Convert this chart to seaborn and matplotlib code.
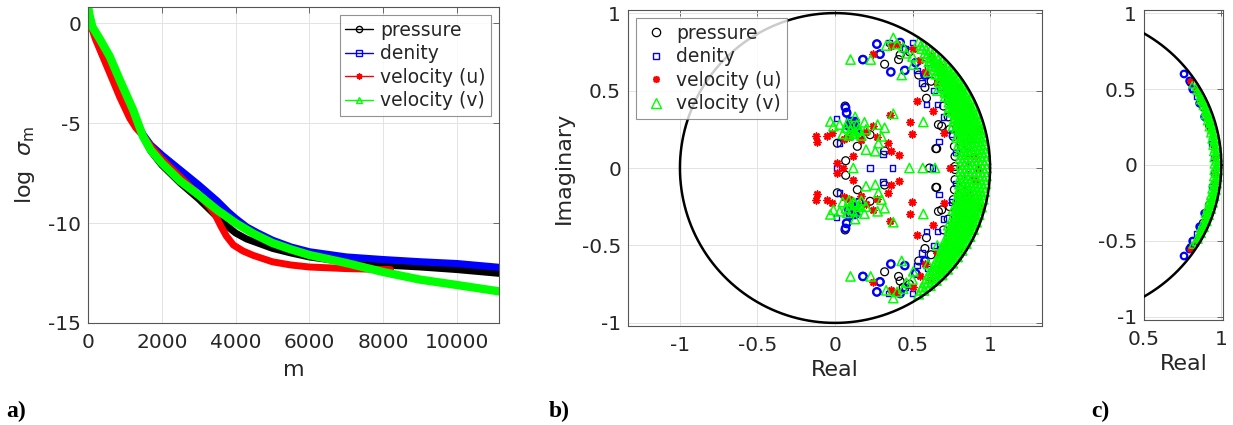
import numpy as np
import pandas as pd
import matplotlib
matplotlib.use("Agg")
import matplotlib.pyplot as plt
from matplotlib.lines import Line2D
import seaborn as sns

# ---------------- panel a: singular values ----------------
series_names = ["pressure", "denity", "velocity (u)", "velocity (v)"]

pressure_m = [0, 150, 400, 800, 1200, 1500, 1700, 2000, 2500, 3000, 3500, 3800, 4000, 4300, 4600, 5000, 5500, 6000, 7000, 8000, 9000, 10000, 11150]
pressure_s = [0.3, -0.4, -1.6, -3.0, -4.6, -5.7, -6.4, -7.1, -8.0, -8.8, -9.7, -10.2, -10.5, -10.8, -11.0, -11.27, -11.5, -11.7, -11.95, -12.1, -12.2, -12.33, -12.52]

density_m = [0, 150, 400, 800, 1200, 1500, 1700, 2000, 2500, 3000, 3500, 3800, 4000, 4300, 4600, 5000, 5500, 6000, 7000, 8000, 9000, 10000, 11150]
density_s = [0.3, -0.4, -1.6, -3.0, -4.6, -5.6, -6.1, -6.6, -7.35, -8.1, -8.9, -9.45, -9.77, -10.2, -10.5, -10.86, -11.2, -11.44, -11.7, -11.83, -11.94, -12.03, -12.22]

vel_u_m = [0, 200, 588, 860, 1131, 1300, 1500, 1700, 2000, 2500, 3000, 3300, 3450, 3600, 3750, 3940, 4200, 4480, 5000, 5500, 6000, 7000, 8200]
vel_u_s = [0.3, -0.8, -2.5, -3.7, -4.76, -5.25, -5.65, -6.15, -6.8, -7.7, -8.6, -9.2, -9.6, -10.15, -10.65, -11.1, -11.4, -11.62, -11.94, -12.1, -12.2, -12.28, -12.33]

vel_v_m = [0, 40, 120, 320, 588, 860, 1222, 1493, 1700, 2000, 2500, 3000, 3500, 4000, 4500, 5000, 5500, 6000, 7000, 8000, 9000, 10000, 11150]
vel_v_s = [0.85, 0.4, -0.2, -0.8, -1.67, -2.84, -4.34, -5.68, -6.35, -7.0, -7.9, -8.6, -9.35, -10.0, -10.55, -11.0, -11.32, -11.6, -12.0, -12.45, -12.83, -13.1, -13.42]

# ---------------- panel b: eigenvalues (upper half-plane, conjugates mirrored) ----------------
b_p_re = [0.065, 0.075, 0.015, 0.069, 0.144, 0.226, 0.32, 0.13, 0.16, 0.18, 0.27, 0.29, 0.32, 0.41, 0.42, 0.44, 0.48,
          0.65, 0.61, 0.59, 0.667, 0.73, 0.774, 0.774, 0.763, 0.58, 0.62, 0.70, 0.74, 0.77, 0.54, 0.80, 0.84, 0.86, 0.656, 0.688]
b_p_im = [0.40, 0.36, 0.16, 0.047, 0.14, 0.215, 0.11, 0.26, 0.22, 0.70, 0.80, 0.735, 0.67, 0.70, 0.73, 0.77, 0.75,
          0.125, 0.0, 0.45, 0.28, 0.33, 0.01, 0.075, 0.204, 0.52, 0.56, 0.40, 0.25, 0.14, 0.60, 0.30, 0.20, 0.05, 0.125, 0.27]

b_d_re = [0.01, 0.01, 0.226, 0.37, 0.31, 0.03, 0.59, 0.67, 0.63, 0.66, 0.53, 0.50, 0.12, 0.10, 0.14, 0.155, 0.35, 0.45,
          0.56, 0.70, 0.75, 0.78, 0.82, 0.72, 0.64, 0.60, 0.68, 0.79, 0.85, 0.11, 0.13, 0.09]
b_d_im = [0.32, 0.0, 0.0, 0.0, 0.09, 0.16, 0.41, 0.17, 0.0, 0.41, 0.63, 0.81, 0.30, 0.27, 0.24, 0.21, 0.81, 0.77,
          0.55, 0.33, 0.22, 0.10, 0.28, 0.45, 0.50, 0.65, 0.52, 0.36, 0.14, 0.29, 0.26, 0.31]

b_dc_re = [0.068, 0.075, 0.27, 0.18, 0.29, 0.36, 0.42, 0.45, 0.10, 0.12, 0.11, 0.52, 0.58, 0.09, 0.13]
b_dc_im = [0.39, 0.355, 0.80, 0.70, 0.735, 0.62, 0.81, 0.63, 0.30, 0.28, 0.25, 0.68, 0.60, 0.27, 0.30]

b_u_re = [-0.125, -0.114, -0.054, -0.02, 0.01, 0.05, 0.118, 0.17, 0.247, 0.344, 0.36, 0.41, 0.355, 0.484, 0.495, 0.527,
          0.63, 0.742, 0.70, 0.247, 0.36, 0.40, 0.50, 0.55, 0.58, 0.66, 0.72, 0.78, 0.83, 0.87, 0.90, 0.92, 0.06, 0.09,
          0.20, 0.27, 0.86, 0.93, 0.80, 0.68, 0.62]
b_u_im = [0.204, 0.166, 0.204, 0.226, 0.03, 0.0, 0.075, 0.18, 0.27, 0.16, 0.11, 0.086, 0.34, 0.295, 0.22, 0.434,
          0.366, 0.0, 0.226, 0.735, 0.79, 0.80, 0.77, 0.70, 0.62, 0.55, 0.48, 0.38, 0.30, 0.18, 0.08, 0.0, 0.19, 0.20,
          0.23, 0.20, 0.40, 0.25, 0.52, 0.66, 0.72]

b_v_re = [0.10, 0.23, -0.03, -0.01, 0.13, 0.19, 0.275, 0.32, 0.30, 0.28, 0.26, 0.118, 0.20, 0.376, 0.48, 0.566, 0.57,
          0.645, 0.376, 0.43, 0.505, 0.03, 0.07, 0.10, 0.12, 0.15, 0.17, 0.08, 0.05, 0.20, 0.33, 0.46, 0.60, 0.66, 0.73,
          0.76, 0.40, 0.44, 0.50, 0.11, 0.14, 0.13, 0.16, 0.09]
b_v_im = [0.70, 0.70, 0.30, 0.27, 0.33, 0.295, 0.28, 0.26, 0.204, 0.16, 0.108, 0.0, 0.118, 0.35, 0.0, 0.0, 0.297,
          0.0, 0.84, 0.60, 0.667, 0.28, 0.26, 0.24, 0.22, 0.25, 0.21, 0.29, 0.22, 0.25, 0.79, 0.74, 0.62, 0.50, 0.37,
          0.27, 0.80, 0.78, 0.72, 0.27, 0.28, 0.23, 0.24, 0.21]

# dense arc of velocity (v) eigenvalues near the unit circle: modulus and phase (deg)
b_v_arc_mod = [0.978, 0.965, 0.952, 0.939, 0.926, 0.913, 0.900, 0.887, 0.874, 0.861, 0.848, 0.835, 0.822, 0.809]
b_v_arc_deg = [
    [0, 3, 6, 9, 12, 15, 18, 21, 24, 27, 30, 33, 36, 39, 42, 45, 48, 51, 54, 56.5],
    [1.5, 4.5, 7.5, 10.5, 13.5, 16.5, 19.5, 22.5, 25.5, 28.5, 31.5, 34.5, 37.5, 40.5, 43.5, 46.5, 49.5, 52.5, 55],
    [0, 3, 6, 9, 12, 15, 18, 21, 24, 27, 30, 33, 36, 39, 42, 45, 48, 51, 54],
    [1.5, 4.5, 7.5, 10.5, 13.5, 16.5, 19.5, 22.5, 25.5, 28.5, 31.5, 34.5, 37.5, 40.5, 43.5, 46.5, 49.5, 52],
    [0, 3, 6, 9, 12, 15, 18, 21, 24, 27, 30, 33, 36, 39, 42, 45, 48, 50.5],
    [1.5, 4.5, 7.5, 10.5, 13.5, 16.5, 19.5, 22.5, 25.5, 28.5, 31.5, 34.5, 37.5, 40.5, 43.5, 46.5, 48.5],
    [0, 3, 6, 9, 12, 15, 18, 21, 24, 27, 30, 33, 36, 39, 42, 45],
    [1.5, 4.5, 7.5, 10.5, 13.5, 16.5, 19.5, 22.5, 25.5, 28.5, 31.5, 34.5, 37.5, 40.5, 43],
    [0, 3, 6, 9, 12, 15, 18, 21, 24, 27, 30, 33, 36, 39.5],
    [1.5, 4.5, 7.5, 10.5, 13.5, 16.5, 19.5, 22.5, 25.5, 28.5, 31.5, 34.5, 37],
    [0, 3, 6, 9, 12, 15, 18, 21, 24, 27, 30, 33],
    [1.5, 4.5, 7.5, 10.5, 13.5, 16.5, 19.5, 22.5, 25.5, 28],
    [0, 3, 6, 9, 12, 15, 18, 21.5],
    [1.5, 4.5, 7.5, 10.5, 14],
]

# ---------------- panel c: eigenvalues of the second case ----------------
c_p_re = [0.80, 0.88, 0.92]
c_p_im = [0.54, 0.38, 0.26]
c_d_re = [0.813, 0.86, 0.89, 0.935, 0.84, 0.95]
c_d_im = [0.498, 0.41, 0.32, 0.14, 0.45, 0.05]
c_dc_re = [0.759, 0.795, 0.86, 0.892, 0.815]
c_dc_im = [0.599, 0.553, 0.406, 0.318, 0.50]
c_u_re = [0.834, 0.80, 0.87, 0.90, 0.93, 0.95, 0.96, 0.85, 0.91]
c_u_im = [0.498, 0.55, 0.42, 0.33, 0.24, 0.12, 0.05, 0.47, 0.30]
c_v_arc_mod = [0.988, 0.978, 0.968, 0.958, 0.948]
c_v_arc_deg = [
    [0, 2.5, 5, 7.5, 10, 12.5, 15, 17.5, 20, 22.5, 25, 27.5, 30],
    [1.2, 3.7, 6.2, 8.7, 11.2, 13.7, 16.2, 18.7, 21.2, 23.7, 26.2, 28.7, 31.5],
    [0, 2.5, 5, 7.5, 10, 12.5, 15, 17.5, 20, 22.5, 25, 27.5, 30, 33],
    [1.2, 3.7, 6.2, 8.7, 11.2, 13.7, 16.2, 18.7, 21.2, 23.7, 26.2],
    [0, 2.5, 5, 7.5, 10, 12.5, 15, 17.5, 20],
]


def mirror(re, im):
    re = np.asarray(re, float)
    im = np.asarray(im, float)
    m = im > 0
    return np.concatenate([re, re[m]]), np.concatenate([im, -im[m]])


def arc_points(mods, degs):
    re, im = [], []
    for r, ds in zip(mods, degs):
        for d in ds:
            re.append(r * np.cos(np.radians(d)))
            im.append(r * np.sin(np.radians(d)))
    return re, im


# ---------------- style ----------------
sns.set_theme(style="white")
plt.rcParams.update({
    "font.family": ["DejaVu Sans"],
    "axes.unicode_minus": False,
    "mathtext.fontset": "dejavusans",
    "axes.edgecolor": "#555555",
    "axes.linewidth": 0.8,
    "xtick.color": "#262626",
    "ytick.color": "#262626",
    "text.color": "#262626",
    "axes.labelcolor": "#262626",
    "xtick.direction": "in",
    "ytick.direction": "in",
})

W, H = 1233, 425
fig = plt.figure(figsize=(W / 100, H / 100), dpi=100)
fig.patch.set_facecolor("white")
axa = fig.add_axes([88 / W, 1 - 323 / H, 411 / W, 316 / H])
axb = fig.add_axes([628 / W, 1 - 326 / H, 414 / W, 316 / H])
axc = fig.add_axes([1144 / W, 1 - 320 / H, 79 / W, 310 / H])

TICK_FS = 14.5
LAB_FS = 16


def style_axes(ax):
    ax.grid(True, color="#e3e3e3", lw=0.7)
    ax.set_axisbelow(True)
    ax.tick_params(axis="both", which="both", labelsize=TICK_FS, length=4, width=0.6,
                   top=True, right=True, color="#555555")
    ax.tick_params(axis="x", pad=7)
    ax.tick_params(axis="y", pad=5)


# ---- panel a ----
colors = ["black", "#0000ff", "#ff0000", "#00ff00"]
markers_a = ["o", "s", (8, 2, 0), "^"]
data_a = [(pressure_m, pressure_s), (density_m, density_s), (vel_u_m, vel_u_s), (vel_v_m, vel_v_s)]
lws = [5.0, 5.2, 5.0, 6.0]
for (mm, ss), c, lw in zip(data_a, colors, lws):
    sns.lineplot(x=mm, y=ss, ax=axa, color=c, lw=lw, sort=False, estimator=None,
                 legend=False, solid_capstyle="round", solid_joinstyle="round")
axa.set_xlim(0, 11140)
axa.set_ylim(-15, 0.8)
axa.set_xticks([0, 2000, 4000, 6000, 8000, 10000])
axa.set_yticks([-15, -10, -5, 0])
style_axes(axa)
axa.set_xlabel("m", fontsize=LAB_FS, labelpad=6)
axa.set_ylabel(r"log  $\sigma_{\rm m}$", fontsize=LAB_FS, labelpad=8)
handles_a = [Line2D([], [], color=c, lw=1.0, marker=mk, ms=4.5, mfc="none", mec=c, mew=1.0)
             for c, mk in zip(colors, markers_a)]
leg = axa.legend(handles_a, series_names, loc="upper right", bbox_to_anchor=(1 - 8 / 411, 1 - 8 / 316),
                 borderaxespad=0, fontsize=13.5, frameon=True, fancybox=False, handlelength=1.5,
                 handletextpad=0.35, labelspacing=0.24, borderpad=0.3)
leg.get_frame().set_edgecolor("#777777")
leg.get_frame().set_linewidth(0.8)

# ---- panels b and c ----
theta = np.linspace(0, 2 * np.pi, 721)


def scatter_series(ax, re, im, marker, color, s, lw, filled_line=False):
    df = pd.DataFrame({"Real": re, "Imaginary": im})
    face = color if filled_line else "none"
    sns.scatterplot(data=df, x="Real", y="Imaginary", ax=ax, marker=marker, s=s,
                    facecolor=face, edgecolor=color, linewidth=lw, legend=False, zorder=3)


# panel b
bv_arc_re, bv_arc_im = arc_points(b_v_arc_mod, b_v_arc_deg)
re, im = mirror(b_p_re, b_p_im); scatter_series(axb, re, im, "o", "black", 32, 0.9)
re, im = mirror(b_dc_re, b_dc_im); scatter_series(axb, re, im, "o", "#0000ff", 28, 1.7)
re, im = mirror(b_d_re, b_d_im); scatter_series(axb, re, im, "s", "#0000ff", 16, 1.0)
re, im = mirror(b_u_re, b_u_im); scatter_series(axb, re, im, (8, 2, 0), "#ff0000", 22, 1.2, filled_line=True)
re, im = mirror(list(b_v_re) + bv_arc_re, list(b_v_im) + bv_arc_im)
scatter_series(axb, re, im, "^", "#00ff00", 44, 1.1)
axb.plot(np.cos(theta), np.sin(theta), color="black", lw=1.8, zorder=4)
axb.set_xlim(-1.335, 1.335)
axb.set_ylim(-1.02, 1.02)
axb.set_xticks([-1, -0.5, 0, 0.5, 1])
axb.set_yticks([-1, -0.5, 0, 0.5, 1])
axb.set_xticklabels(["-1", "-0.5", "0", "0.5", "1"])
axb.set_yticklabels(["-1", "-0.5", "0", "0.5", "1"])
style_axes(axb)
axb.set_xlabel("Real", fontsize=LAB_FS, labelpad=4)
axb.set_ylabel("Imaginary", fontsize=LAB_FS, labelpad=6)
handles_b = [Line2D([], [], ls="none", marker="o", ms=6, mfc="none", mec="black", mew=0.9),
             Line2D([], [], ls="none", marker="s", ms=4.5, mfc="none", mec="#0000ff", mew=1.0),
             Line2D([], [], ls="none", marker=(8, 2, 0), ms=5, mec="#ff0000", mew=1.2),
             Line2D([], [], ls="none", marker="^", ms=7, mfc="none", mec="#00ff00", mew=1.0)]
legb = axb.legend(handles_b, series_names, loc="upper left", bbox_to_anchor=(8 / 414, 1 - 8 / 316),
                  borderaxespad=0, fontsize=13.5, frameon=True, fancybox=False, handlelength=1.5,
                  handletextpad=0.35, labelspacing=0.24, borderpad=0.3)
legb.get_frame().set_edgecolor("#777777")
legb.get_frame().set_linewidth(0.8)
legb.set_zorder(6)

# panel c
cv_arc_re, cv_arc_im = arc_points(c_v_arc_mod, c_v_arc_deg)
re, im = mirror(c_p_re, c_p_im); scatter_series(axc, re, im, "o", "black", 22, 0.9)
re, im = mirror(c_dc_re, c_dc_im); scatter_series(axc, re, im, "o", "#0000ff", 22, 1.6)
re, im = mirror(c_d_re, c_d_im); scatter_series(axc, re, im, "s", "#0000ff", 12, 1.0)
re, im = mirror(c_u_re, c_u_im); scatter_series(axc, re, im, (8, 2, 0), "#ff0000", 16, 1.1, filled_line=True)
re, im = mirror(cv_arc_re, cv_arc_im); scatter_series(axc, re, im, "^", "#00ff00", 20, 1.0)
axc.plot(np.cos(theta), np.sin(theta), color="black", lw=1.8, zorder=4)
axc.set_xlim(0.5, 1.011)
axc.set_ylim(-1.02, 1.02)
axc.set_xticks([0.5, 1])
axc.set_xticklabels(["0.5", "1"])
axc.set_yticks([-1, -0.5, 0, 0.5, 1])
axc.set_yticklabels(["-1", "-0.5", "0", "0.5", "1"])
style_axes(axc)
axc.set_xlabel("Real", fontsize=LAB_FS, labelpad=4)
axc.set_ylabel("")

# panel letters
for x, lab in [(6, "a)"), (549, "b)"), (1091, "c)")]:
    fig.text(x / W, 1 - 417 / H, lab, fontsize=17, fontweight="bold",
             family=["Liberation Serif", "DejaVu Serif"], va="baseline", ha="left", color="black")

fig.savefig("out.png", dpi=100, facecolor="white")
